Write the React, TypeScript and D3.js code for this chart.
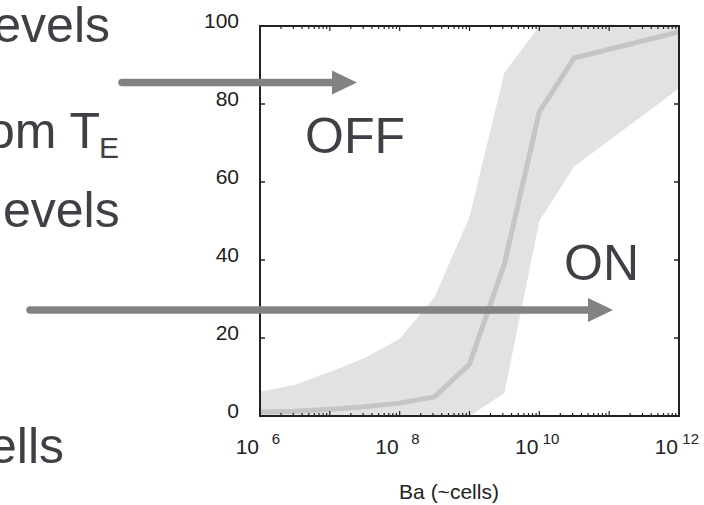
import React from "react";
import * as d3 from "d3";

const cells = [1e6, 3.16e6, 1e7, 3.16e7, 1e8, 3.16e8, 1e9, 3.16e9, 1e10, 3.16e10, 1e12];
const meanPct = [1.0, 1.2, 1.7, 2.4, 3.3, 4.9, 13.3, 39, 78, 91.8, 98.5];
const upperPct = [6.2, 8.0, 11.3, 14.9, 19.8, 30.5, 51, 88, 100, 100, 100];
const lowerPct = [0, 0, 0, 0, 0, 0, 0, 5.9, 50, 64, 84];
const yTicks = [0, 20, 40, 60, 80, 100];
const xTickExps = [6, 8, 10, 12];
const slideLines = [
  { text: "evels", x: 110, y: 42, anchor: "end" },
  { text: "evels", x: 3, y: 227, anchor: "start" },
  { text: "ells", x: 64, y: 463, anchor: "end" },
];

const W = 704;
const H = 505;
const L = 260, R = 679, T = 26, B = 416;
const textColor = "#3d4045";
const arrowColor = "#828282";

export default function App() {
  const x = d3.scaleLog().domain([1e6, 1e12]).range([L, R]);
  const y = d3.scaleLinear().domain([0, 100]).range([B, T]);
  const idx = d3.range(cells.length);
  const area = d3
    .area<number>()
    .x((i) => x(cells[i]))
    .y0((i) => y(lowerPct[i]))
    .y1((i) => y(upperPct[i]));
  const line = d3
    .line<number>()
    .x((i) => x(cells[i]))
    .y((i) => y(meanPct[i]));

  const minor: number[] = [];
  for (let e = 6; e < 12; e++) {
    for (let k = 1; k <= 9; k++) minor.push(k * Math.pow(10, e));
  }
  minor.push(1e12);

  const font = "Liberation Sans, Arial, Helvetica, sans-serif";

  const arrow = (x1: number, x2: number, yy: number) => {
    const headLen = 25;
    const headHalf = 12;
    return (
      <g>
        <line x1={x1} y1={yy} x2={x2 - headLen + 2} y2={yy} stroke={arrowColor} strokeWidth={7.5} strokeLinecap="round" />
        <path d={`M${x2 - headLen},${yy - headHalf}L${x2},${yy}L${x2 - headLen},${yy + headHalf}Z`} fill={arrowColor} />
      </g>
    );
  };

  return (
    <svg width={W} height={H} style={{ position: "absolute", left: 0, top: 0, background: "#fff" }} fontFamily={font}>
      <rect x={0} y={0} width={W} height={H} fill="#fff" />
      {slideLines.map((s, i) => (
        <text key={i} x={s.x} y={s.y} fontSize={50} fill={textColor} textAnchor={s.anchor}>
          {s.text}
        </text>
      ))}
      <text x={100} y={148} fontSize={50} fill={textColor} textAnchor="end">om T</text>
      <text x={99} y={158} fontSize={30} fill={textColor}>E</text>

      <defs>
        <clipPath id="plotclip">
          <rect x={L} y={T} width={R - L} height={B - T} />
        </clipPath>
      </defs>
      <g clipPath="url(#plotclip)">
        <path d={area(idx) || ""} fill="#e2e2e2" />
        <path d={line(idx) || ""} fill="none" stroke="#c5c5c5" strokeWidth={5} strokeLinejoin="round" />
      </g>

      {minor.map((v, i) => {
        const e = Math.log10(v);
        const isDecade = Math.abs(e - Math.round(e)) < 1e-9;
        const len = isDecade ? 5 : 3;
        const xx = x(v);
        return (
          <g key={i}>
            <line x1={xx} x2={xx} y1={B} y2={B - len} stroke="#222" strokeWidth={1.2} />
            <line x1={xx} x2={xx} y1={T} y2={T + len} stroke="#222" strokeWidth={1.2} />
          </g>
        );
      })}
      {yTicks.map((v) => (
        <g key={v}>
          <line x1={L} x2={L + 5} y1={y(v)} y2={y(v)} stroke="#222" strokeWidth={1.5} />
          <line x1={R} x2={R - 5} y1={y(v)} y2={y(v)} stroke="#222" strokeWidth={1.5} />
          <text x={239} y={y(v) + 1.5} fontSize={21} fill="#222" textAnchor="end">
            {v}
          </text>
        </g>
      ))}
      <rect x={L} y={T} width={R - L} height={B - T} fill="none" stroke="#222" strokeWidth={2} />

      {xTickExps.map((e) => {
        const xx = x(Math.pow(10, e));
        return (
          <g key={e}>
            <text x={xx - 1} y={454} fontSize={21} fill="#222" textAnchor="end">10</text>
            <text x={xx + 20} y={444} fontSize={15} fill="#222" textAnchor="end">{e}</text>
          </g>
        );
      })}
      <text x={449} y={499} fontSize={21} fill="#222" textAnchor="middle">Ba (~cells)</text>

      <text x={305} y={153} fontSize={50} fill={textColor}>OFF</text>
      <text x={564} y={280} fontSize={50} fill={textColor}>ON</text>

      {arrow(122, 357, 82.5)}
      {arrow(30, 613, 310)}
    </svg>
  );
}
